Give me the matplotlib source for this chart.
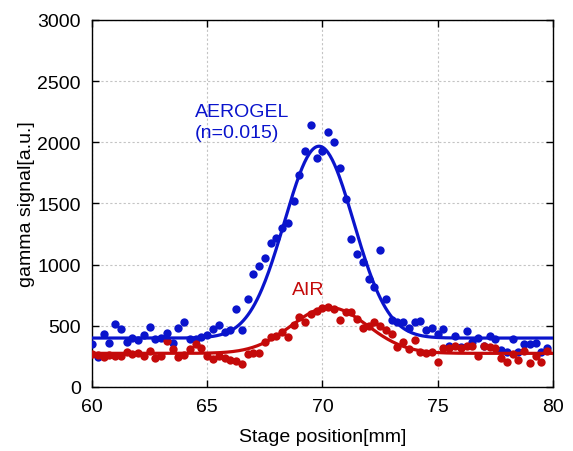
import numpy as np
import matplotlib
matplotlib.use("Agg")
import matplotlib.pyplot as plt

plt.rcParams['font.family'] = ['Liberation Sans', 'DejaVu Sans']

# stage positions (mm), one reading every 0.25 mm
position = np.arange(80) * 0.25 + 60.0

# aerogel (n=0.015) readings
aerogel = [351, 248, 430, 357, 515, 474, 365, 403, 381, 428,
           487, 395, 403, 438, 357, 485, 528, 389, 392, 408,
           422, 474, 506, 446, 468, 637, 468, 719, 923, 991,
           1057, 1174, 1220, 1302, 1342, 1522, 1732, 1925, 2140, 1873,
           1925, 2082, 2004, 1794, 1536, 1209, 1086, 1024, 882, 820,
           1122, 719, 547, 534, 534, 485, 534, 539, 463, 485,
           430, 474, 338, 419, 329, 457, 370, 398, 332, 419,
           392, 305, 283, 392, 283, 349, 349, 359, 283, 321]

# air readings
air = [270, 262, 242, 261, 250, 256, 283, 270, 275, 256,
       297, 234, 250, 378, 310, 242, 261, 310, 351, 316,
       250, 229, 250, 234, 218, 215, 188, 270, 278, 278,
       365, 406, 419, 447, 406, 506, 569, 534, 596, 624,
       643, 651, 637, 547, 610, 610, 556, 479, 501, 534,
       501, 468, 433, 329, 370, 310, 384, 283, 278, 283,
       207, 316, 316, 332, 316, 332, 338, 256, 332, 324,
       316, 234, 207, 270, 223, 297, 196, 256, 202, 297]

# gaussian fit parameters: base, height, centre, sigma
aerogel_fit = (400, 1568, 69.85, 1.50)
air_fit = (275, 375, 70.3, 1.65)

blue = '#0a14cc'
red = '#c40a0a'


def gauss(x, p):
    base, height, centre, sigma = p
    return base + height * np.exp(-0.5 * ((x - centre) / sigma) ** 2)


fig = plt.figure(figsize=(5.73, 4.52), dpi=100)
ax = fig.add_axes([0.1606, 0.1416, 0.8044, 0.812])

xs = np.linspace(60, 80, 400)
ax.plot(position, aerogel, 'o', color=blue, ms=6, mec='none', zorder=3)
ax.plot(position, air, 'o', color=red, ms=6, mec='none', zorder=3)
ax.plot(xs, gauss(xs, aerogel_fit), color=blue, lw=2.3, zorder=4)
ax.plot(xs, gauss(xs, air_fit), color=red, lw=2.3, zorder=4)

ax.set_xlim(60, 80)
ax.set_ylim(0, 3000)
ax.set_xticks([60, 65, 70, 75, 80])
ax.set_yticks([0, 500, 1000, 1500, 2000, 2500, 3000])
ax.grid(True, color='#c4c4c4', linestyle=(0, (2, 2)), linewidth=0.8)
ax.set_axisbelow(True)
ax.tick_params(direction='in', length=5, width=1, top=True, right=True,
               labelsize=14, pad=8)
for s in ax.spines.values():
    s.set_linewidth(1.0)

ax.set_xlabel('Stage position[mm]', fontsize=14, labelpad=9)
ax.set_ylabel('gamma signal[a.u.]', fontsize=14, labelpad=2)

ax.text(64.47, 2214, 'AEROGEL', color=blue, fontsize=14, va='baseline')
ax.text(64.47, 2040, '(n=0.015)', color=blue, fontsize=14, va='baseline')
ax.text(68.68, 760, 'AIR', color=red, fontsize=14, va='baseline')

plt.savefig('out.png', dpi=100)
